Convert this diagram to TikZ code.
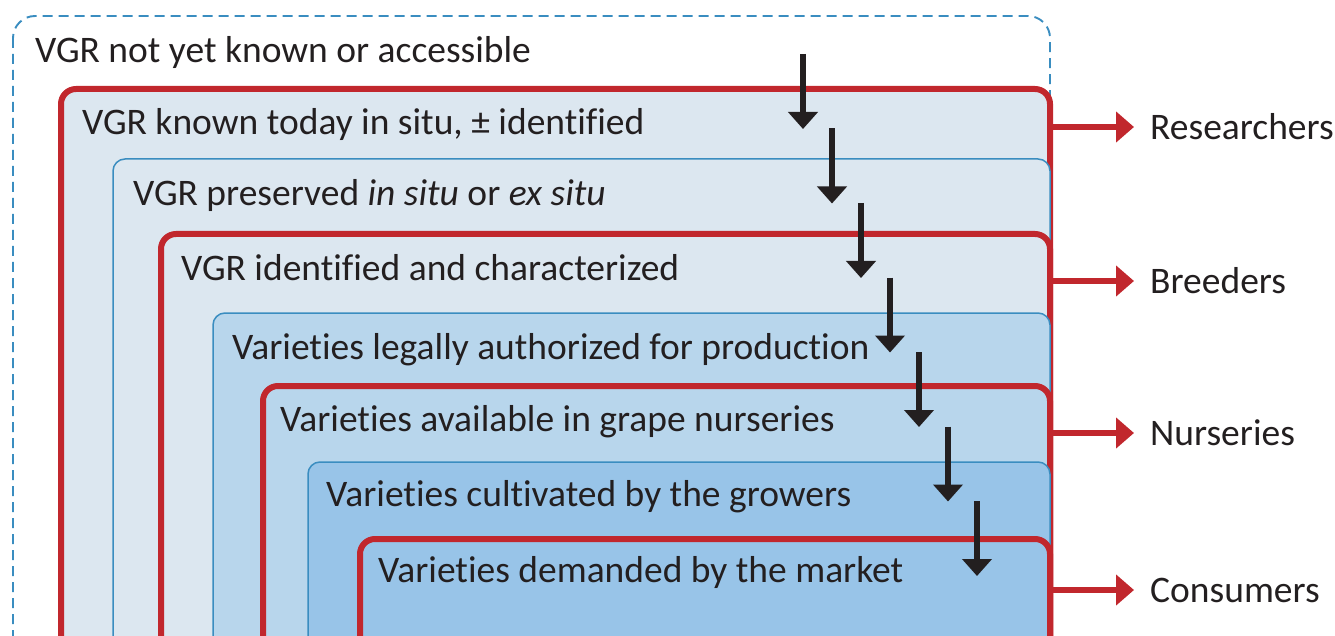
\documentclass[tikz,border=0pt]{standalone}
\usepackage{fontspec}
\setmainfont{Carlito}[Ligatures={NoCommon}]
\usetikzlibrary{arrows.meta}
\definecolor{vred}{HTML}{C1272D}
\definecolor{vblue}{HTML}{3A8DC0}
\definecolor{fillA}{HTML}{DCE7F0}
\definecolor{fillB}{HTML}{B8D6EC}
\definecolor{fillC}{HTML}{98C4E8}
\definecolor{txt}{HTML}{231F20}
\tikzset{
  dashbox/.style={draw=vblue, line width=1.9pt, dash pattern=on 10pt off 6pt, rounded corners=22pt},
  redbox/.style={draw=vred, line width=6pt, rounded corners=15pt},
  bluebox/.style={draw=vblue, line width=1.5pt, rounded corners=12pt},
  lbl/.style={anchor=base west, inner sep=0pt, text=txt, font=\fontsize{37.5}{44}\selectfont},
  actor/.style={anchor=west, inner sep=0pt, text=txt, font=\fontsize{37.5}{44}\selectfont},
  flow/.style={draw=txt, line width=6.5pt, -{Triangle[length=17pt,width=29pt]}},
  outarrow/.style={draw=vred, line width=6pt, -{Triangle[length=18pt,width=30pt]}},
}
\begin{document}
\begin{tikzpicture}[x=1pt,y=-1pt]
\useasboundingbox (0,0) rectangle (1335,636);
\clip (0,0) rectangle (1335,636);
% nested boxes
\draw[dashbox] (13,16) rectangle (1050,720);
\draw[redbox, fill=fillA] (61,89) rectangle (1050,720);
\draw[bluebox, fill=fillA] (113,159) rectangle (1050,720);
\draw[redbox, fill=fillA] (161,234) rectangle (1050,720);
\draw[bluebox, fill=fillB] (213,313) rectangle (1050,720);
\draw[redbox, fill=fillB] (263,386) rectangle (1050,720);
\draw[bluebox, fill=fillC] (308,462) rectangle (1050,720);
\draw[redbox, fill=fillC] (360,539) rectangle (1050,720);
% labels
\node[lbl] (l0) at (35,63) {VGR not yet known or accessible};
\node[lbl] (l1) at (82,135) {VGR known today in situ, ± identified};
\node[lbl] (l2) at (133,206) {VGR preserved \textit{in situ} or \textit{ex situ}};
\node[lbl] (l3) at (181,280) {VGR identified and characterized};
\node[lbl] (l4) at (232,359) {Varieties legally authorized for production};
\node[lbl] (l5) at (280,431) {Varieties available in grape nurseries};
\node[lbl] (l6) at (326,506) {Varieties cultivated by the growers};
\node[lbl] (l7) at (378,582) {Varieties demanded by the market};
% flow arrows
\foreach \i in {0,...,6}{
  \coordinate (fs\i) at (803+29*\i, 54+74.5*\i);
  \coordinate (fe\i) at (803+29*\i, 129+74.5*\i);
  \draw[flow] (fs\i) -- (fe\i);
}
% actors
\node[actor] (researchers) at (1150,127) {Researchers};
\node[actor] (breeders) at (1150,281) {Breeders};
\node[actor] (nurseries) at (1150,433) {Nurseries};
\node[actor] (consumers) at (1150,590) {Consumers};
\foreach \n in {researchers,breeders,nurseries,consumers}{
  \coordinate (s\n) at (1050,0 |- \n.west);
  \draw[outarrow] (s\n) -- ([xshift=-16pt]\n.west);
}
\end{tikzpicture}
\end{document}
